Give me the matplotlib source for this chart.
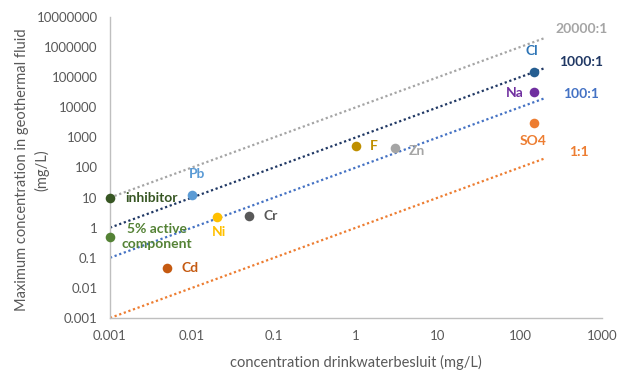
import matplotlib
matplotlib.use("Agg")
import matplotlib.pyplot as plt

plt.rcParams['font.family'] = ['Lato', 'DejaVu Sans']

# Ratio lines (drinking-water value -> geothermal fluid value)
line_labels = ["20000:1", "1000:1", "100:1", "1:1"]
line_x = [0.001, 200]
line_y = [[10, 2e6], [1, 2e5], [0.1, 2e4], [0.001, 200]]
line_colors = ["#A5A5A5", "#203864", "#4472C4", "#ED7D31"]

# Substances
names = ["inhibitor", "5% active\ncomponent", "Pb", "Ni", "Cr", "Cd", "F", "Zn", "Cl", "Na", "SO4"]
x_vals = [0.001, 0.001, 0.01, 0.02, 0.05, 0.005, 1, 3, 150, 150, 150]
y_vals = [10, 0.5, 12, 2.3, 2.5, 0.045, 500, 450, 150000, 32000, 3000]
point_colors = ["#375623", "#548235", "#5B9BD5", "#FFC000", "#595959", "#C55A11",
                "#BF8F00", "#A5A5A5", "#255E91", "#7030A0", "#ED7D31"]
label_colors = ["#375623", "#548235", "#5B9BD5", "#FFC000", "#595959", "#C55A11",
                "#BF8F00", "#A5A5A5", "#2E75B6", "#7030A0", "#ED7D31"]
label_offsets = [(11, 0), (34, 0), (4, 15), (2, -11), (10, 0), (10, 0),
                 (10, 0), (10, -2), (-2, 15), (-14, -1), (-1, -13)]
label_ha = ["left", "center", "center", "center", "left", "left",
            "left", "left", "center", "center", "center"]

fig = plt.figure(figsize=(6.3, 3.73), dpi=100)
ax = fig.add_axes([0.1746, 0.1475, 0.781, 0.807])
ax.set_xscale('log')
ax.set_yscale('log')
ax.set_xlim(0.001, 1000)
ax.set_ylim(0.001, 1e7)

for ys, c in zip(line_y, line_colors):
    ax.plot(line_x, ys, linestyle=(0, (1, 1.2)), color=c, linewidth=1.6, zorder=2)

for x, y, c in zip(x_vals, y_vals, point_colors):
    ax.scatter([x], [y], s=48, color=c, zorder=3, clip_on=False, linewidths=0)

for name, x, y, c, off, ha in zip(names, x_vals, y_vals, label_colors, label_offsets, label_ha):
    ax.annotate(name, (x, y), xytext=off, textcoords='offset points', ha=ha, va='center',
                color=c, fontsize=10, fontweight='bold', multialignment='center',
                linespacing=1.25, zorder=5)

# ratio labels at right
label_pos_x = [560, 560, 560, 520]
label_pos_y = [4e6, 3.2e5, 2.8e4, 330]
for lab, xx, yy, c in zip(line_labels, label_pos_x, label_pos_y, line_colors):
    ax.text(xx, yy, lab, ha='center', va='center', color=c, fontsize=10, fontweight='bold')

xt = [0.001, 0.01, 0.1, 1, 10, 100, 1000]
ax.set_xticks(xt)
ax.set_xticklabels(["0.001", "0.01", "0.1", "1", "10", "100", "1000"])
yt = [10.0 ** k for k in range(-3, 8)]
ax.set_yticks(yt)
ax.set_yticklabels(["0.001", "0.01", "0.1", "1", "10", "100", "1000", "10000",
                    "100000", "1000000", "10000000"])
ax.minorticks_off()
ax.tick_params(length=0, labelsize=9.5, colors="#595959", pad=9)

for s in ['top', 'right']:
    ax.spines[s].set_visible(False)
for s in ['left', 'bottom']:
    ax.spines[s].set_color("#BFBFBF")
    ax.spines[s].set_linewidth(1.0)

ax.set_xlabel("concentration drinkwaterbesluit (mg/L)", fontsize=10.5, color="#595959", labelpad=9)
fig.text(32 / 630, 1 - 170 / 373, "Maximum concentration in geothermal fluid\n(mg/L)",
         rotation=90, ha='center', va='center', fontsize=10.5, color="#595959",
         multialignment='center', linespacing=1.45)

fig.savefig("out.png", dpi=100)
